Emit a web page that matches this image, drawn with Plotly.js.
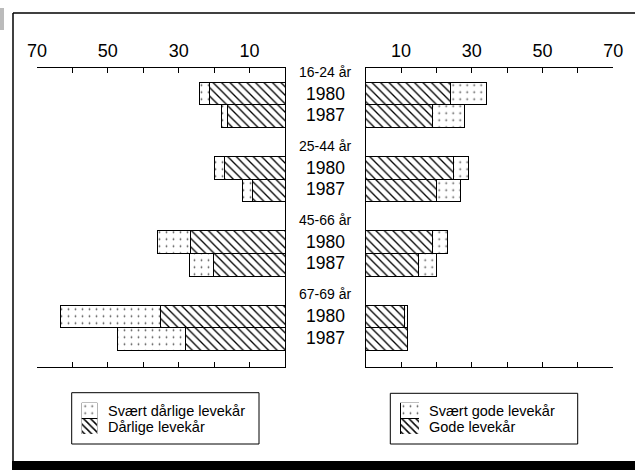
<!DOCTYPE html>
<html>
<head>
<meta charset="utf-8">
<script src="https://cdn.plot.ly/plotly-3.0.1.min.js"></script>
<style>html,body{margin:0;padding:0;background:#fff;}#chart{width:635px;height:470px;}</style>
</head>
<body>
<div id="chart"></div>
<script>
// ---- data ----
var ages = ['16-24 år', '25-44 år', '45-66 år', '67-69 år'];
var years = ['1980', '1987'];
var darlige1980 = [21.4, 17.2, 26.8, 35.1];
var darlige1987 = [16.2, 9.2, 20.2, 28.2];
var svaertDarlige1980 = [2.8, 2.8, 9.3, 28.3];
var svaertDarlige1987 = [1.7, 2.8, 6.8, 19.1];
var gode1980 = [24.1, 24.9, 18.8, 10.9];
var gode1987 = [18.8, 19.9, 14.9, 11.9];
var svaertGode1980 = [10.0, 4.1, 4.3, 1.0];
var svaertGode1987 = [9.0, 6.9, 5.0, 0.0];
var tickValues = [0, 10, 20, 30, 40, 50, 60, 70];
var tickLabels = ['', '10', '', '30', '', '50', '', '70'];
var legendLeft = ['Svært dårlige levekår', 'Dårlige levekår'];
var legendRight = ['Svært gode levekår', 'Gode levekår'];

// ---- layout helpers ----
var W = 635, H = 470;
function px(x) { return x / W; }
function py(y) { return 1 - y / H; }
var FONT = 'Liberation Sans, Arial, Helvetica, sans-serif';
var PITCH = 74.3, FIRST = 25.8, BARH = 22.6;

function yPos() {
  var out = [];
  ages.forEach(function (a, g) {
    years.forEach(function (yr, k) { out.push(FIRST + g * PITCH + k * BARH); });
  });
  return out;
}
function inter(a, b) {
  var out = [];
  a.forEach(function (v, i) { out.push(a[i]); out.push(b[i]); });
  return out;
}
var yv = yPos();
var hatch = {shape: '\\', size: 6, solidity: 0.22, fgcolor: '#000', bgcolor: '#fff'};
var dots = {shape: '.', size: 7, solidity: 0.05, fgcolor: '#555', bgcolor: '#fff'};
var hatchKey = {shape: '\\', size: 5, solidity: 0.3, fgcolor: '#000', bgcolor: '#fff'};
var lineDef = {color: '#000', width: 1};

var traces = [
  {type: 'bar', orientation: 'h', name: legendLeft[1], x: inter(darlige1980, darlige1987), y: yv,
   width: BARH, xaxis: 'x', yaxis: 'y', showlegend: false,
   marker: {color: '#fff', pattern: hatch, line: lineDef}, hoverinfo: 'x'},
  {type: 'bar', orientation: 'h', name: legendLeft[0], x: inter(svaertDarlige1980, svaertDarlige1987), y: yv,
   width: BARH, xaxis: 'x', yaxis: 'y', showlegend: false,
   marker: {color: '#fff', pattern: dots, line: lineDef}, hoverinfo: 'x'},
  {type: 'bar', orientation: 'h', name: legendRight[1], x: inter(gode1980, gode1987), y: yv,
   width: BARH, xaxis: 'x2', yaxis: 'y2', showlegend: false,
   marker: {color: '#fff', pattern: hatch, line: lineDef}, hoverinfo: 'x'},
  {type: 'bar', orientation: 'h', name: legendRight[0], x: inter(svaertGode1980, svaertGode1987), y: yv,
   width: BARH, xaxis: 'x2', yaxis: 'y2', showlegend: false,
   marker: {color: '#fff', pattern: dots, line: lineDef}, hoverinfo: 'x'}
];

// legend keys: one square per series, drawn on small hidden axes
[['x3', 'y3'], ['x4', 'y4']].forEach(function (ax) {
  traces.push({type: 'bar', orientation: 'h', x: [1], y: [0.5], width: 1, xaxis: ax[0], yaxis: ax[1],
    showlegend: false, hoverinfo: 'skip', marker: {color: '#fff', pattern: dots, line: lineDef}});
  traces.push({type: 'bar', orientation: 'h', x: [1], y: [1.5], width: 1, xaxis: ax[0], yaxis: ax[1],
    showlegend: false, hoverinfo: 'skip', marker: {color: '#fff', pattern: hatchKey, line: lineDef}});
});

var xCommon = {
  side: 'top', showline: true, linecolor: '#000', linewidth: 1, mirror: 'ticks',
  ticks: 'inside', ticklen: 5, tickwidth: 1, tickcolor: '#000',
  tickmode: 'array', tickvals: tickValues, ticktext: tickLabels, ticklabelstandoff: 3,
  tickfont: {family: FONT, size: 18, color: '#000'},
  showgrid: false, zeroline: false, fixedrange: true
};
var xa = Object.assign({}, xCommon, {domain: [px(37), px(285)], range: [70, 0], anchor: 'y'});
var xb = Object.assign({}, xCommon, {domain: [px(365.7), px(613.3)], range: [0, 70], anchor: 'y2'});

var yDomain = [py(366.5), py(67.7)];
var ya = {domain: yDomain, range: [298.8, 0], anchor: 'x', side: 'right', showline: true, linecolor: '#000',
  linewidth: 1, showticklabels: false, ticks: '', showgrid: false, zeroline: false, fixedrange: true};
var yb = {domain: yDomain, range: [298.8, 0], anchor: 'x2', side: 'left', showline: true, linecolor: '#000',
  linewidth: 1, showticklabels: false, ticks: '', showgrid: false, zeroline: false, fixedrange: true};

function hidden(extra) {
  return Object.assign({visible: false, fixedrange: true, showgrid: false, zeroline: false}, extra);
}
var keyY = [py(434), py(402.7)];

var annotations = [];
ages.forEach(function (a, g) {
  var c = FIRST + g * PITCH;
  annotations.push({text: a, xref: 'paper', yref: 'y', x: px(325), y: c - 22, showarrow: false,
    font: {family: FONT, size: 14, color: '#000'}, xanchor: 'center', yanchor: 'middle'});
  years.forEach(function (yr, k) {
    annotations.push({text: yr, xref: 'paper', yref: 'y', x: px(325), y: c + k * BARH - (k ? 1.5 : 0),
      showarrow: false, font: {family: FONT, size: 17.5, color: '#000'}, xanchor: 'center', yanchor: 'middle'});
  });
});
function legText(t, x, y) {
  annotations.push({text: t, xref: 'paper', yref: 'paper', x: px(x), y: py(y), showarrow: false,
    xanchor: 'left', yanchor: 'middle', font: {family: FONT, size: 14.5, color: '#000'}});
}
legText(legendLeft[0], 105.5, 411.2);
legText(legendLeft[1], 105.5, 427);
legText(legendRight[0], 426.5, 411.2);
legText(legendRight[1], 426.5, 427);

var shapes = [
  // outer frame
  {type: 'line', xref: 'paper', yref: 'paper', x0: px(13), x1: 1, y0: py(13), y1: py(13), line: {color: '#000', width: 1.5}},
  {type: 'line', xref: 'paper', yref: 'paper', x0: px(13), x1: px(13), y0: py(13), y1: py(462), line: {color: '#000', width: 1.5}},
  {type: 'rect', xref: 'paper', yref: 'paper', x0: px(12), x1: 1, y0: py(461), y1: 0, fillcolor: '#000', line: {width: 0}},
  {type: 'rect', xref: 'paper', yref: 'paper', x0: 0, x1: px(4), y0: py(8), y1: py(30), fillcolor: '#bbb', line: {width: 0}},
  // legend boxes
  {type: 'rect', xref: 'paper', yref: 'paper', x0: px(71.7), x1: px(259), y0: py(392.7), y1: py(444), line: {color: '#000', width: 1}},
  {type: 'rect', xref: 'paper', yref: 'paper', x0: px(390.3), x1: px(577.7), y0: py(393.3), y1: py(444), line: {color: '#000', width: 1}}
];

var layout = {
  width: W, height: H, margin: {l: 0, r: 0, t: 0, b: 0},
  paper_bgcolor: '#fff', plot_bgcolor: 'rgba(0,0,0,0)',
  barmode: 'stack', bargap: 0, showlegend: false,
  font: {family: FONT, color: '#000'},
  xaxis: xa, xaxis2: xb, yaxis: ya, yaxis2: yb,
  xaxis3: hidden({domain: [px(81.7), px(97.3)], range: [0, 1], anchor: 'y3'}),
  yaxis3: hidden({domain: keyY, range: [2, 0], anchor: 'x3'}),
  xaxis4: hidden({domain: [px(400), px(419)], range: [0, 1], anchor: 'y4'}),
  yaxis4: hidden({domain: keyY, range: [2, 0], anchor: 'x4'}),
  annotations: annotations, shapes: shapes
};

Plotly.newPlot('chart', traces, layout, {displayModeBar: false, staticPlot: true});
</script>
</body>
</html>
